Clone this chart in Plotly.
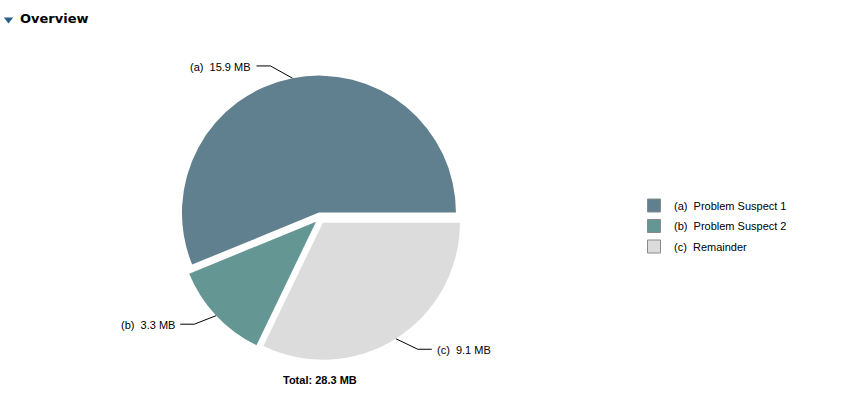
import math
import plotly.graph_objects as go

# ---- data ----
slice_keys = ["(a)", "(b)", "(c)"]
slice_names = ["Problem Suspect 1", "Problem Suspect 2", "Remainder"]
slice_values_mb = [15.9, 3.3, 9.1]
slice_colors = ["#61808f", "#649694", "#dcdcdc"]
title_text = "Overview"
total_mb = round(sum(slice_values_mb), 1)

# ---- layout constants (page pixels) ----
PAGE_W, PAGE_H = 851, 400
OFF = 0                      # body margin removed via post_script
W, H = PAGE_W - OFF, PAGE_H - OFF
CX, CY = 320.0, 218.0        # pie centre (page px)
PULL = 0.04
R = 137.0                    # pie radius
LINK_DX = 22.0
LINK_DY = 12.5
LINK_H = 14.0
TEXT_GAP = 3.0
FONT = "Liberation Sans, Arial, sans-serif"
NB = "\u00a0"

half = R * (1 + PULL)
dom_x = [(CX - half - OFF) / W, (CX + half - OFF) / W]
dom_y = [1 - (CY + half - OFF) / H, 1 - (CY - half - OFF) / H]

total = sum(slice_values_mb)
first_span_deg = 360.0 * slice_values_mb[0] / total

fig = go.Figure()

fig.add_trace(go.Pie(
    values=slice_values_mb,
    labels=[f"{k} {n}" for k, n in zip(slice_keys, slice_names)],
    marker=dict(colors=slice_colors, line=dict(width=0)),
    sort=False,
    direction="counterclockwise",
    rotation=90 - first_span_deg,
    pull=[PULL] * len(slice_values_mb),
    textinfo="none",
    hoverinfo="skip",
    showlegend=False,
    domain=dict(x=dom_x, y=dom_y),
))

annotations = []
cum = 0.0
for key, v in zip(slice_keys, slice_values_mb):
    theta = 2 * math.pi * (cum + v / 2) / total
    cum += v
    c, s = math.cos(theta), math.sin(theta)
    sx = CX + PULL * R * c
    sy = CY - PULL * R * s
    ax, ay = sx + R * c, sy - R * s
    sign = 1 if c >= 0 else -1
    ex, ey = ax + sign * LINK_DX, ay - LINK_DY * s
    lx = ex + sign * LINK_H
    fig.add_trace(go.Scatter(
        x=[ax, ex, lx], y=[ay, ey, ey], mode="lines",
        line=dict(color="#000000", width=1),
        showlegend=False, hoverinfo="skip", cliponaxis=False,
    ))
    annotations.append(dict(
        x=lx + sign * TEXT_GAP, y=ey + 1, xref="x", yref="y",
        text=f"{key}{NB} {v} MB", showarrow=False,
        xanchor="left" if sign > 0 else "right", yanchor="middle",
        font=dict(family=FONT, size=11, color="#000000"),
    ))

# legend entries
for i, (key, name, col) in enumerate(zip(slice_keys, slice_names, slice_colors)):
    fig.add_trace(go.Scatter(
        x=[None], y=[None], mode="markers",
        marker=dict(symbol="square", size=13, color=col,
                    line=dict(color="#8a8a8a", width=1)),
        name=f"{key}{NB} {name}", legendgroup=f"g{i}", showlegend=True,
    ))

# title icon
fig.add_trace(go.Scatter(
    x=[8.5], y=[19.5], mode="markers",
    marker=dict(symbol="triangle-down", size=8, color="#2a5d8a"),
    showlegend=False, hoverinfo="skip", cliponaxis=False,
))

annotations.append(dict(
    x=18, y=18, xref="x", yref="y", text=f"<b>{title_text}</b>",
    showarrow=False, xanchor="left", yanchor="middle",
    font=dict(family="DejaVu Sans, Verdana, sans-serif", size=13, color="#000000"),
))
annotations.append(dict(
    x=CX, y=380, xref="x", yref="y", text=f"<b>Total: {total_mb} MB</b>",
    showarrow=False, xanchor="center", yanchor="middle",
    font=dict(family=FONT, size=11, color="#000000"),
))

fig.update_layout(
    width=W, height=H,
    margin=dict(l=0, r=0, t=0, b=0),
    paper_bgcolor="white", plot_bgcolor="white",
    xaxis=dict(range=[OFF, PAGE_W], visible=False, fixedrange=True, domain=[0, 1]),
    yaxis=dict(range=[PAGE_H, OFF], visible=False, fixedrange=True, domain=[0, 1]),
    annotations=annotations,
    legend=dict(x=(634 - OFF) / W, y=1 - (191 - OFF) / H, xanchor="left", yanchor="top",
                font=dict(family=FONT, size=11, color="#000000"),
                tracegroupgap=1.5, bgcolor="rgba(0,0,0,0)"),
    showlegend=True,
    hovermode=False,
)

fig.write_html(
    "out.html",
    config={"displayModeBar": False},
    post_script="document.body.style.margin='0';document.body.style.overflow='hidden';",
)
